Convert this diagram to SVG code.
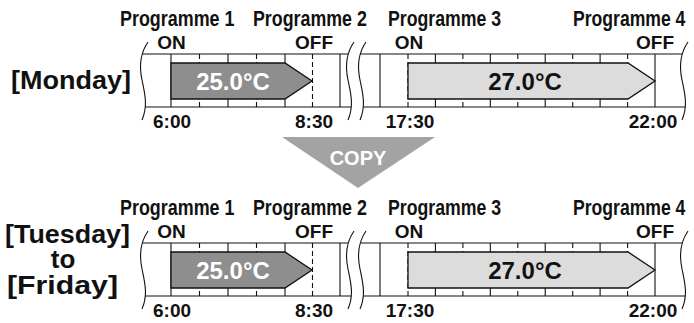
<svg xmlns="http://www.w3.org/2000/svg" width="694" height="323" viewBox="0 0 694 323">
<style>
  .t{font-family:"Liberation Sans",Arial,Helvetica,sans-serif;font-weight:bold;fill:#111}
  .prog{font-size:22px}
  .lab{font-size:19px;text-anchor:middle}
  .day{font-size:26px;text-anchor:middle}
  .temp{font-size:24px;text-anchor:middle}
  .ln{stroke:#111;stroke-width:1.1;fill:none}
  .dash{stroke:#111;stroke-width:1.1;stroke-dasharray:5 3;fill:none}
  .wave{stroke:#111;stroke-width:1.1;fill:none}
  .bar{stroke:#111;stroke-width:1.3}
</style>
<defs>
  <path id="wv" d="M8,0 C1,10 -1,24 2,38 C5,52 8,64 2,78"/>
  <clipPath id="clipA" clipPathUnits="userSpaceOnUse">
    <path d="M148,42 C141,52 139,66 142,80 C145,94 148,106 142,120 L348,120 C354,106 351,94 348,80 C345,66 347,52 354,42 Z"/>
  </clipPath>
  <clipPath id="clipB" clipPathUnits="userSpaceOnUse">
    <path d="M366,42 C359,52 357,66 360,80 C363,94 366,106 360,120 L682,120 C688,106 685,94 682,80 C679,66 681,52 688,42 Z"/>
  </clipPath>
  <g id="timeline">
    <g clip-path="url(#clipA)">
      <path class="ln" d="M130,54 H360 M130,107 H360"/>
    </g>
    <g clip-path="url(#clipB)">
      <path class="ln" d="M350,54 H700 M350,107 H700"/>
    </g>
    <path class="ln" d="M171,54 V107 M228,54 V107 M285,54 V107 M340,54 V107 M380,54 V107 M435.4,54 V107 M490.3,54 V107 M545.2,54 V107 M600.1,54 V107 M655,54 V107"/>
    <path class="dash" d="M199.5,54 V107 M256.5,54 V107 M312.5,54 V107 M408,54 V107 M462.9,54 V107 M517.8,54 V107 M572.7,54 V107 M627.6,54 V107"/>
    <use href="#wv" class="wave" x="140" y="42"/>
    <use href="#wv" class="wave" x="346" y="42"/>
    <use href="#wv" class="wave" x="358" y="42"/>
    <use href="#wv" class="wave" x="680" y="42"/>
    <path class="bar" fill="#8e8e8e" d="M171,63 H285 L312,81 L285,99 H171 Z"/>
    <path class="bar" fill="#dcdcdc" d="M408,63 H628 L655,81 L628,99 H408 Z"/>
  </g>
</defs>

<g id="monday">
  <use href="#timeline"/>
  <text class="t prog" transform="translate(120,26) scale(0.815,1)">Programme 1</text>
  <text class="t prog" transform="translate(253,26) scale(0.81,1)">Programme 2</text>
  <text class="t prog" transform="translate(388,26) scale(0.805,1)">Programme 3</text>
  <text class="t prog" transform="translate(573,26) scale(0.8,1)">Programme 4</text>
  <text class="t lab" x="171.5" y="49">ON</text>
  <text class="t lab" x="314" y="49">OFF</text>
  <text class="t lab" x="409" y="49">ON</text>
  <text class="t lab" x="655" y="49">OFF</text>
  <text class="t lab" x="172" y="128">6:00</text>
  <text class="t lab" x="314" y="128">8:30</text>
  <text class="t lab" x="410" y="128">17:30</text>
  <text class="t lab" x="653" y="128">22:00</text>
  <text class="t temp" x="233" y="90" style="fill:#fff">25.0°C</text>
  <text class="t temp" x="525" y="90">27.0°C</text>
  <text class="t day" x="71" y="89" textLength="120" lengthAdjust="spacingAndGlyphs">[Monday]</text>
</g>

<g id="copy">
  <polygon points="282,137 435,137 358,188" fill="#a3a3a3"/>
  <text class="t" x="358" y="165" font-size="20" text-anchor="middle" style="fill:#fff">COPY</text>
</g>

<g id="tuesday-friday" transform="translate(0,189)">
  <use href="#timeline"/>
  <text class="t prog" transform="translate(120,26) scale(0.815,1)">Programme 1</text>
  <text class="t prog" transform="translate(253,26) scale(0.81,1)">Programme 2</text>
  <text class="t prog" transform="translate(388,26) scale(0.805,1)">Programme 3</text>
  <text class="t prog" transform="translate(573,26) scale(0.8,1)">Programme 4</text>
  <text class="t lab" x="171.5" y="49">ON</text>
  <text class="t lab" x="314" y="49">OFF</text>
  <text class="t lab" x="409" y="49">ON</text>
  <text class="t lab" x="655" y="49">OFF</text>
  <text class="t lab" x="172" y="128">6:00</text>
  <text class="t lab" x="314" y="128">8:30</text>
  <text class="t lab" x="410" y="128">17:30</text>
  <text class="t lab" x="653" y="128">22:00</text>
  <text class="t temp" x="233" y="90" style="fill:#fff">25.0°C</text>
  <text class="t temp" x="525" y="90">27.0°C</text>
  <text class="t day" x="67.5" y="54" textLength="125" lengthAdjust="spacingAndGlyphs">[Tuesday]</text>
  <text class="t day" x="63" y="79">to</text>
  <text class="t day" x="62.5" y="105" textLength="111" lengthAdjust="spacingAndGlyphs">[Friday]</text>
</g>
</svg>
